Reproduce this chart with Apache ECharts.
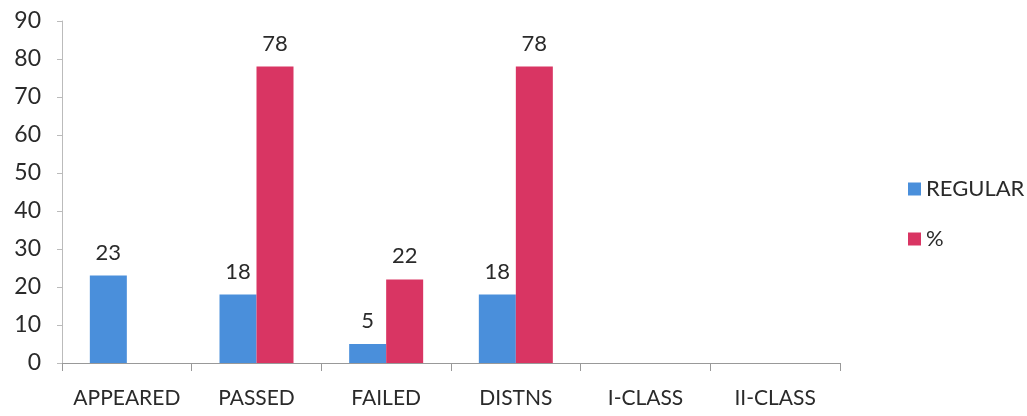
<!DOCTYPE html>
<html>
<head>
<meta charset="utf-8">
<script src="https://cdn.jsdelivr.net/npm/echarts@6/dist/echarts.min.js"></script>
<style>
  html, body {margin: 0; padding: 0; background: #fff;}
  #chart {width: 1027px; height: 416px;}
</style>
</head>
<body>
<div id="chart"></div>
<script>
  var categories = ['APPEARED', 'PASSED', 'FAILED', 'DISTNS', 'I-CLASS', 'II-CLASS'];
  var regular = [23, 18, 5, 18, null, null];
  var percent = [null, 78, 22, 78, null, null];
  var yTicks = {min: 0, max: 90, interval: 10};

  var myChart = echarts.init(document.getElementById('chart'));
  var font = 'Lato, "Open Sans", sans-serif';
  var option = {
    animation: false,
    textStyle: {fontFamily: font},
    grid: {left: 62, right: 187, top: 21, bottom: 53},
    legend: {
      orient: 'vertical', left: 903, top: 173, itemGap: 28,
      itemWidth: 13, itemHeight: 13, icon: 'rect',
      textStyle: {fontSize: 22, color: '#2a2a2a', fontFamily: font}
    },
    xAxis: {
      type: 'category', data: categories,
      axisLine: {lineStyle: {color: '#999'}},
      axisTick: {show: true, length: 8, lineStyle: {color: '#999'}},
      axisLabel: {interval: 0, fontSize: 21, color: '#2a2a2a', margin: 25, fontFamily: font}
    },
    yAxis: {
      type: 'value', min: yTicks.min, max: yTicks.max, interval: yTicks.interval,
      splitLine: {show: false},
      axisLine: {show: true, lineStyle: {color: '#bbb'}},
      axisTick: {show: true, length: 5, lineStyle: {color: '#bbb'}},
      axisLabel: {fontSize: 23, color: '#2a2a2a', margin: 21, fontFamily: font}
    },
    series: [
      {
        name: 'REGULAR', type: 'bar', data: regular, barWidth: 37, barGap: '0%',
        itemStyle: {color: '#4a8fdb'},
        label: {show: true, position: 'top', distance: 12, fontSize: 22, color: '#2a2a2a', fontFamily: font}
      },
      {
        name: '%', type: 'bar', data: percent, barWidth: 37, barGap: '0%',
        itemStyle: {color: '#d93563'},
        label: {show: true, position: 'top', distance: 12, fontSize: 22, color: '#2a2a2a', fontFamily: font}
      }
    ]
  };
  myChart.setOption(option);
</script>
</body>
</html>
